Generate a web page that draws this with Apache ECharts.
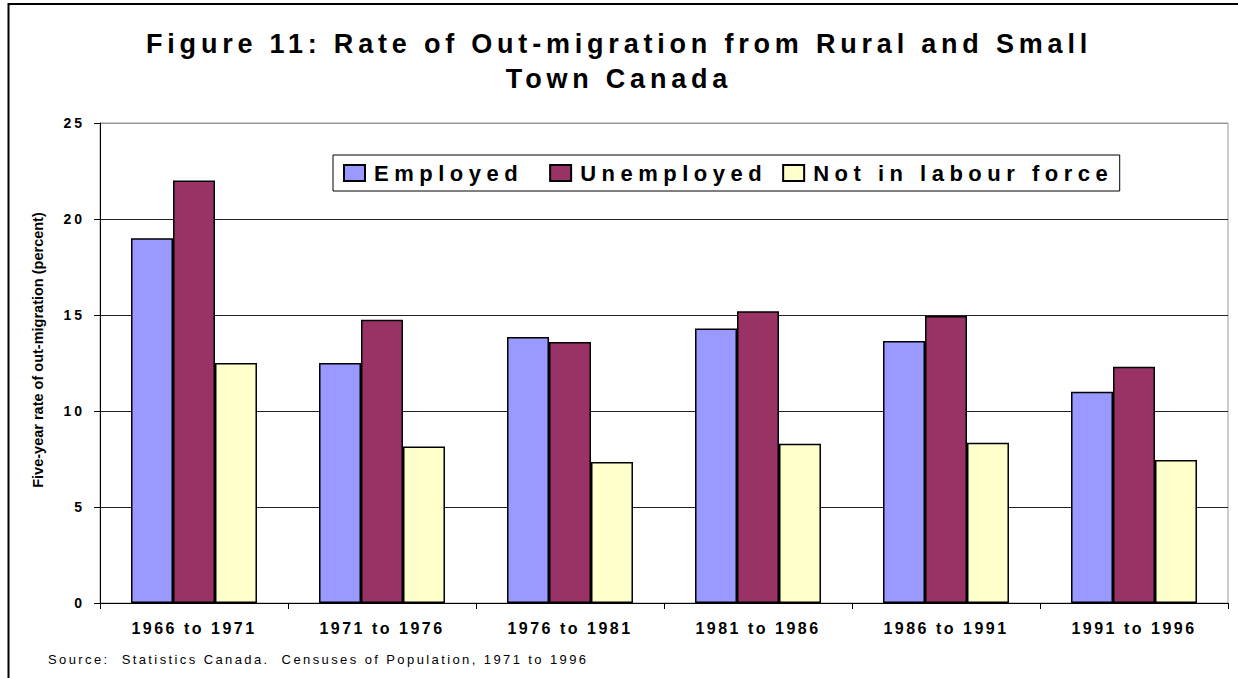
<!DOCTYPE html>
<html>
<head>
<meta charset="utf-8">
<script src="https://cdn.jsdelivr.net/npm/echarts@6/dist/echarts.min.js"></script>
<style>
  html, body { margin: 0; padding: 0; background: #fff; }
  #chart { width: 1238px; height: 678px; }
  /* the original chart has widely spaced letters */
  #chart svg text[style*="27px"] { letter-spacing: 4.8px; }
  #chart svg text[style*="22px"] { letter-spacing: 5.5px; }
  #chart svg text[style*="16px"] { letter-spacing: 2.5px; }
  #chart svg text[style*="14px"] { letter-spacing: 3px; }
  #chart svg text[style*="13px"] { letter-spacing: 2.4px; }
</style>
</head>
<body>
<div id="chart"></div>
<script>
const periods = ['1966 to 1971', '1971 to 1976', '1976 to 1981', '1981 to 1986', '1986 to 1991', '1991 to 1996']
const employed = [19.0, 12.5, 13.85, 14.3, 13.65, 11.0]
const unemployed = [22.0, 14.75, 13.6, 15.2, 14.95, 12.3]
const notInLabourForce = [12.5, 8.15, 7.35, 8.3, 8.35, 7.45]
const yTicks = [0, 5, 10, 15, 20, 25]

const font = '"Liberation Sans", Arial, sans-serif'

const chart = echarts.init(document.getElementById('chart'), null, { renderer: 'svg' })

function barSeries (name, data, color) {
  return {
    name: name,
    type: 'bar',
    data: data,
    barGap: '0%',
    barCategoryGap: '33%',
    itemStyle: { color: color, borderColor: '#000', borderWidth: 1.5 }
  }
}

chart.setOption({
  animation: false,
  backgroundColor: '#fff',
  title: {
    text: 'Figure 11: Rate of Out-migration from Rural and Small\nTown Canada',
    left: 'center',
    top: 21,
    textStyle: { fontFamily: font, fontSize: 27, fontWeight: 'bold', color: '#000', lineHeight: 35 }
  },
  legend: {
    left: 333,
    top: 155,
    itemWidth: 21,
    itemHeight: 16,
    itemGap: 70,
    padding: [7, 111, 7, 10],
    borderColor: '#000',
    borderWidth: 1,
    backgroundColor: '#fff',
    selectedMode: false,
    textStyle: { fontFamily: font, fontSize: 22, fontWeight: 'bold', color: '#000', padding: [0, 0, 0, 4] },
    data: [
      { name: 'Employed', icon: 'rect' },
      { name: 'Unemployed', icon: 'rect' },
      { name: 'Not in labour force', icon: 'rect' }
    ]
  },
  grid: {
    left: 100,
    right: 10,
    top: 123,
    bottom: 75,
    show: true,
    borderColor: '#999',
    borderWidth: 1
  },
  xAxis: {
    type: 'category',
    data: periods,
    axisLine: { lineStyle: { color: '#000', width: 1 } },
    axisTick: { show: true, length: 6, alignWithLabel: false, lineStyle: { color: '#000' } },
    axisLabel: { fontFamily: font, fontSize: 16, fontWeight: 'bold', color: '#000', margin: 17 }
  },
  yAxis: {
    type: 'value',
    min: yTicks[0],
    max: yTicks[yTicks.length - 1],
    interval: 5,
    name: 'Five-year rate of out-migration (percent)',
    nameLocation: 'middle',
    nameGap: 55,
    nameRotate: 90,
    nameTextStyle: { fontFamily: font, fontSize: 14.5, fontWeight: 'bold', color: '#000', padding: [0, 0, 0, 26] },
    axisLine: { show: true, lineStyle: { color: '#000', width: 1 } },
    axisTick: { show: true, length: 6, lineStyle: { color: '#000' } },
    axisLabel: { fontFamily: font, fontSize: 14, fontWeight: 'bold', color: '#000', margin: 15 },
    splitLine: {
      show: true,
      lineStyle: { color: ['#000', '#222', '#222', '#222', '#222', '#999'], width: 1 }
    }
  },
  series: [
    barSeries('Employed', employed, '#9999FF'),
    barSeries('Unemployed', unemployed, '#993366'),
    barSeries('Not in labour force', notInLabourForce, '#FFFFCC')
  ],
  graphic: [
    {
      type: 'rect',
      shape: { x: 8.5, y: 4, width: 1260, height: 700 },
      style: { fill: 'none', stroke: '#000', lineWidth: 2 },
      silent: true
    },
    {
      type: 'text',
      left: 48,
      top: 653,
      style: {
        text: 'Source:  Statistics Canada.  Censuses of Population, 1971 to 1996',
        font: '13px ' + font,
        fill: '#000'
      }
    }
  ]
})
</script>
</body>
</html>
